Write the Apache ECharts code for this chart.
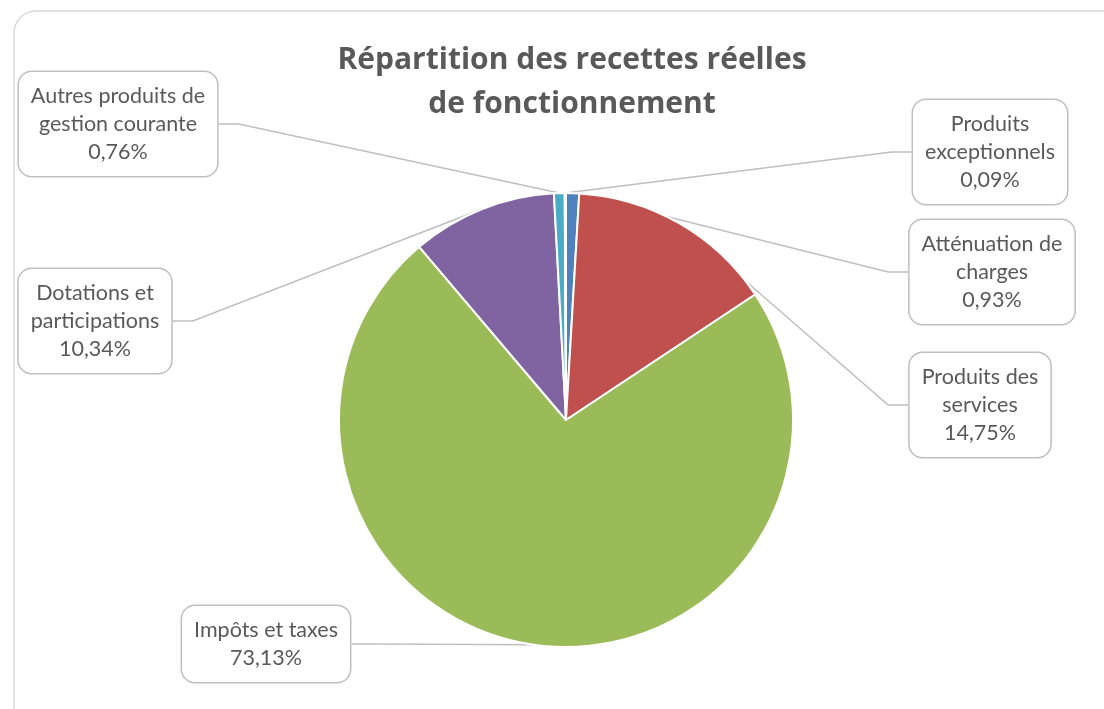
<!DOCTYPE html>
<html style="height: 100%">
<head>
<meta charset="utf-8">
<script src="https://cdn.jsdelivr.net/npm/echarts@6/dist/echarts.min.js"></script>
</head>
<body style="height: 100%; margin: 0; background: #fff">
<div id="container" style="width: 1104px; height: 709px"></div>
<script type="text/javascript">
// postes de recettes (sens horaire depuis midi)
var categories = ['Atténuation de\ncharges', 'Produits des\nservices', 'Impôts et taxes', 'Dotations et\nparticipations', 'Autres produits de\ngestion courante', 'Produits\nexceptionnels'];
var values = [0.93, 14.75, 73.13, 10.34, 0.76, 0.09];
var colors = ['#4F81BD', '#C0504D', '#9BBB59', '#8064A2', '#4BACC6', '#F79646'];

// centre des étiquettes (callouts)
var labelPos = [[992, 272], [980, 405], [266, 644], [95, 321], [118, 124], [990, 152]];

var chart = echarts.init(document.getElementById('container'));

var option = {
    backgroundColor: '#fff',
    animation: false,
    title: {
        text: 'Répartition des recettes réelles\nde fonctionnement',
        left: 567,
        top: 33,
        textAlign: 'center',
        textStyle: {
            fontFamily: 'Open Sans',
            fontWeight: 'bold',
            fontSize: 30,
            lineHeight: 44,
            color: '#595959'
        }
    },
    graphic: [{
        type: 'rect',
        shape: { x: 14, y: 11, width: 1140, height: 760, r: 22 },
        style: { fill: 'none', stroke: '#d9d9d9', lineWidth: 1.5 },
        z: -1
    }],
    series: [{
        type: 'pie',
        center: [566, 420],
        radius: 227,
        startAngle: 90,
        clockwise: true,
        avoidLabelOverlap: false,
        itemStyle: { borderColor: '#fff', borderWidth: 2 },
        label: {
            show: true,
            formatter: function (p) {
                return p.name + '\n' + p.value.toFixed(2).replace('.', ',') + '%';
            },
            fontFamily: 'Lato',
            fontSize: 21.5,
            lineHeight: 28,
            color: '#595959',
            align: 'center',
            backgroundColor: '#fff',
            borderColor: '#bfbfbf',
            borderWidth: 1.5,
            borderRadius: 13,
            padding: [10, 12, 10, 12]
        },
        labelLine: {
            show: true,
            length: 20,
            length2: 20,
            lineStyle: { color: '#bfbfbf', width: 1.5 }
        },
        labelLayout: function (params) {
            var pos = labelPos[params.dataIndex];
            return { x: pos[0], y: pos[1], align: 'center', verticalAlign: 'middle' };
        },
        data: categories.map(function (c, i) {
            return { name: c, value: values[i], itemStyle: { color: colors[i] } };
        })
    }]
};

chart.setOption(option);
</script>
</body>
</html>
